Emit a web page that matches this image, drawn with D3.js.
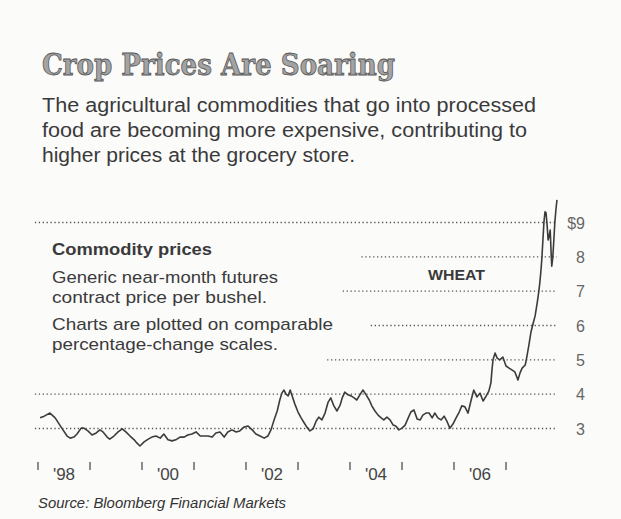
<!DOCTYPE html>
<html>
<head>
<meta charset="utf-8">
<script src="https://cdn.jsdelivr.net/npm/d3@7"></script>
<style>
  html, body { margin: 0; padding: 0; background: #fbfbfa; }
  svg { display: block; }
</style>
</head>
<body>
<svg id="chart" width="621" height="519"></svg>
<script>
// ---- data (wheat, generic near-month futures, $/bushel) ----
const dates = [
  1998.04,1998.12,1998.23,1998.33,1998.42,1998.48,1998.56,1998.62,1998.69,1998.75,1998.83,1998.88,1998.96,
  1999.04,1999.12,1999.19,1999.25,1999.33,1999.38,1999.46,1999.54,1999.62,1999.69,1999.77,1999.85,1999.90,1999.96,
  2000.04,2000.12,2000.19,2000.27,2000.35,2000.42,2000.50,2000.58,2000.65,2000.73,2000.81,2000.88,2000.96,
  2001.04,2001.12,2001.19,2001.27,2001.35,2001.42,2001.50,2001.58,2001.65,2001.73,2001.81,2001.88,2001.96,
  2002.04,2002.12,2002.19,2002.27,2002.35,2002.42,2002.48,2002.54,2002.60,2002.65,2002.69,2002.73,2002.77,2002.81,2002.85,2002.88,2002.94,
  2003.00,2003.06,2003.12,2003.17,2003.23,2003.29,2003.35,2003.40,2003.46,2003.52,2003.58,2003.63,2003.69,2003.75,2003.81,2003.85,2003.90,2003.96,
  2004.02,2004.08,2004.13,2004.19,2004.25,2004.31,2004.37,2004.42,2004.48,2004.54,2004.60,2004.65,2004.71,2004.77,2004.83,2004.88,2004.94,
  2005.00,2005.06,2005.12,2005.17,2005.23,2005.29,2005.35,2005.40,2005.46,2005.52,2005.58,2005.63,2005.69,2005.75,2005.81,2005.87,2005.92,2005.98,
  2006.04,2006.10,2006.15,2006.21,2006.27,2006.33,2006.38,2006.44,2006.50,2006.56,2006.62,2006.67,2006.71,2006.73,2006.75,2006.79,2006.83,2006.88,2006.94,
  2007.00,2007.06,2007.12,2007.17,2007.23,2007.27,2007.31,2007.37,2007.40,2007.44,2007.48,2007.52,2007.56,2007.60,2007.63,2007.65,2007.67,2007.69,
  2007.71,2007.73,2007.75,2007.77,2007.79,2007.81,2007.83,2007.85,2007.87,2007.88,2007.90,2007.92,2007.94,2007.96,2007.98
];
const prices = [
  3.31,3.36,3.45,3.31,3.10,2.96,2.78,2.72,2.75,2.84,3.01,3.01,2.93,
  2.81,2.87,2.96,2.90,2.75,2.69,2.78,2.90,2.99,2.90,2.78,2.67,2.58,2.49,
  2.61,2.69,2.75,2.78,2.72,2.84,2.67,2.64,2.67,2.75,2.75,2.81,2.84,
  2.90,2.78,2.78,2.78,2.75,2.87,2.90,2.75,2.90,2.96,2.90,2.93,3.04,
  3.07,2.96,2.84,2.78,2.72,2.78,2.96,3.25,3.51,3.83,4.03,4.12,4.00,3.95,4.12,3.98,3.71,
  3.48,3.31,3.16,3.04,2.93,2.99,3.22,3.33,3.25,3.45,3.77,3.89,3.66,3.51,3.68,3.89,4.06,3.98,
  3.95,3.89,3.83,3.98,4.12,3.98,3.83,3.66,3.51,3.39,3.31,3.25,3.33,3.25,3.10,3.07,2.96,
  3.01,3.10,3.31,3.48,3.54,3.28,3.25,3.39,3.45,3.45,3.31,3.45,3.31,3.25,3.36,3.19,3.01,3.13,
  3.31,3.48,3.66,3.63,3.45,3.83,4.12,3.92,4.03,3.80,3.95,4.09,4.33,4.70,5.00,5.20,5.05,5.00,5.08,
  4.82,4.76,4.70,4.65,4.41,4.62,4.76,4.85,5.08,5.43,5.81,6.05,6.28,6.66,6.98,7.24,7.56,7.96,
  8.49,9.02,9.31,9.28,8.93,8.49,8.61,8.78,8.05,7.73,7.99,8.49,9.02,9.37,9.66
];
const priceTicks = [3, 4, 5, 6, 7, 8, 9];
const priceTickLabels = ["3", "4", "5", "6", "7", "8", "$9"];
// where each dotted gridline begins (value in years) so it clears the notes
const gridStarts = [1997.94, 1997.94, 2003.56, 2004.40, 2003.86, 2004.22, 1997.94];
const yearTicks = [1998, 1999, 2000, 2001, 2002, 2003, 2004, 2005, 2006, 2007];
const yearLabels = ["'98", "'00", "'02", "'04", "'06"];
const yearLabelYears = [1998, 2000, 2002, 2004, 2006];

const title = "Crop Prices Are Soaring";
const subtitle = [
  "The agricultural commodities that go into processed",
  "food are becoming more expensive, contributing to",
  "higher prices at the grocery store."
];
const notesHead = "Commodity prices";
const notes = [
  "Generic near-month futures",
  "contract price per bushel.",
  "Charts are plotted on comparable",
  "percentage-change scales."
];
const seriesName = "WHEAT";
const source = "Source: Bloomberg Financial Markets";

// ---- drawing ----
const svg = d3.select("#chart");
const x = d3.scaleLinear().domain([1998, 2008]).range([38, 558]);
const y = d3.scaleLinear().domain([3, 9]).range([428.5, 222.5]);
const gridEnd = 2007.98;

// title
svg.append("text")
  .attr("x", 42).attr("y", 75)
  .attr("textLength", 353).attr("lengthAdjust", "spacingAndGlyphs")
  .style("font-family", "'DejaVu Serif', serif")
  .style("font-weight", "bold")
  .style("font-size", "29px")
  .style("fill", "#a3a3a3")
  .style("stroke", "#555")
  .style("stroke-width", "0.8px")
  .text(title);

// subtitle
const subLens = [494, 485, 313];
svg.selectAll("text.sub").data(subtitle).join("text")
  .attr("class", "sub")
  .attr("x", 42).attr("y", (d, i) => 111.5 + i * 25)
  .attr("textLength", (d, i) => subLens[i]).attr("lengthAdjust", "spacingAndGlyphs")
  .style("font-family", "'Liberation Sans', Arial, sans-serif")
  .style("font-size", "20px")
  .style("fill", "#3a3a3a")
  .text(d => d);

// gridlines
svg.selectAll("line.grid").data(priceTicks).join("line")
  .attr("class", "grid")
  .attr("x1", (d, i) => x(gridStarts[i]))
  .attr("x2", x(gridEnd))
  .attr("y1", d => y(d)).attr("y2", d => y(d))
  .style("stroke", "#555")
  .style("stroke-width", 1.4)
  .style("stroke-dasharray", "1.3,2.6");

// price labels
svg.selectAll("text.ylab").data(priceTicks).join("text")
  .attr("class", "ylab")
  .attr("x", 585).attr("y", d => y(d) + 6)
  .attr("text-anchor", "end")
  .style("font-family", "'Liberation Sans', Arial, sans-serif")
  .style("font-size", "16px")
  .style("fill", "#666")
  .text((d, i) => priceTickLabels[i]);

// notes
svg.append("text")
  .attr("x", 52).attr("y", 255)
  .attr("textLength", 160).attr("lengthAdjust", "spacingAndGlyphs")
  .style("font-family", "'Liberation Sans', Arial, sans-serif")
  .style("font-weight", "bold")
  .style("font-size", "16px")
  .style("fill", "#3a3a3a")
  .text(notesHead);
const noteY = [282.5, 302.5, 330, 350];
const noteLens = [226, 215, 281, 226];
svg.selectAll("text.note").data(notes).join("text")
  .attr("class", "note")
  .attr("x", 52).attr("y", (d, i) => noteY[i])
  .attr("textLength", (d, i) => noteLens[i]).attr("lengthAdjust", "spacingAndGlyphs")
  .style("font-family", "'Liberation Sans', Arial, sans-serif")
  .style("font-size", "17px")
  .style("fill", "#3a3a3a")
  .text(d => d);

// series name
svg.append("text")
  .attr("x", 428).attr("y", 280)
  .attr("textLength", 57).attr("lengthAdjust", "spacingAndGlyphs")
  .style("font-family", "'Liberation Sans', Arial, sans-serif")
  .style("font-weight", "bold")
  .style("font-size", "15px")
  .style("fill", "#3a3a3a")
  .text(seriesName);

// price line
const pts = dates.map((d, i) => [d, prices[i]]);
svg.append("path")
  .datum(pts)
  .attr("d", d3.line().x(d => x(d[0])).y(d => y(d[1])))
  .style("fill", "none")
  .style("stroke", "#3c3c3c")
  .style("stroke-width", 1.6)
  .style("stroke-linejoin", "round");

// x axis ticks & labels
svg.selectAll("line.xt").data(yearTicks).join("line")
  .attr("class", "xt")
  .attr("x1", d => x(d)).attr("x2", d => x(d))
  .attr("y1", 462).attr("y2", 470)
  .style("stroke", "#444").style("stroke-width", 1.2);
svg.selectAll("text.xl").data(yearLabelYears).join("text")
  .attr("class", "xl")
  .attr("x", d => x(d + 0.5)).attr("y", 480)
  .attr("text-anchor", "middle")
  .style("font-family", "'Liberation Sans', Arial, sans-serif")
  .style("font-size", "17px")
  .style("fill", "#444")
  .text((d, i) => yearLabels[i]);

// source
svg.append("text")
  .attr("x", 38).attr("y", 508)
  .attr("textLength", 248).attr("lengthAdjust", "spacingAndGlyphs")
  .style("font-family", "'Liberation Sans', Arial, sans-serif")
  .style("font-style", "italic")
  .style("font-size", "15px")
  .style("fill", "#333")
  .text(source);
</script>
</body>
</html>
